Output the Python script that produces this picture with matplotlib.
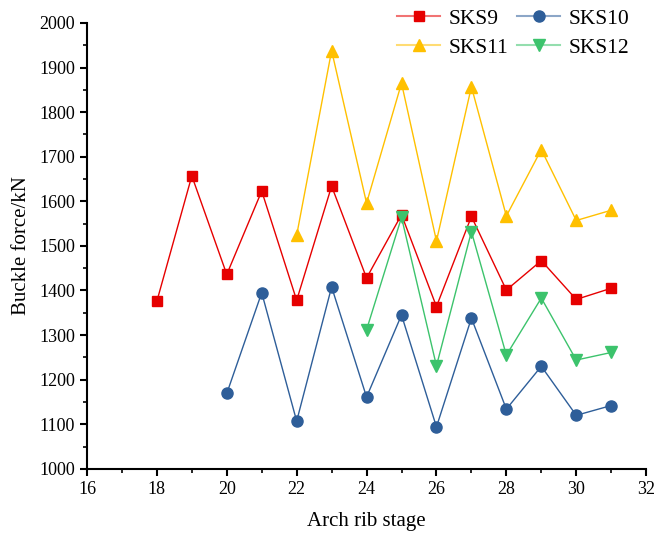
import matplotlib.pyplot as plt
from matplotlib.ticker import MultipleLocator
from matplotlib.lines import Line2D
from matplotlib.colors import to_rgba

plt.rcParams['font.family'] = ['Liberation Serif', 'DejaVu Serif']

x_sks9 = [18, 19, 20, 21, 22, 23, 24, 25, 26, 27, 28, 29, 30, 31]
y_sks9 = [1376, 1657, 1436, 1623, 1378, 1634, 1428, 1570, 1364, 1566, 1401, 1467, 1380, 1405]
x_sks10 = [20, 21, 22, 23, 24, 25, 26, 27, 28, 29, 30, 31]
y_sks10 = [1169, 1395, 1107, 1408, 1161, 1345, 1094, 1338, 1134, 1230, 1120, 1142]
x_sks11 = [22, 23, 24, 25, 26, 27, 28, 29, 30, 31]
y_sks11 = [1524, 1938, 1596, 1865, 1511, 1857, 1567, 1716, 1557, 1580]
x_sks12 = [24, 25, 26, 27, 28, 29, 30, 31]
y_sks12 = [1312, 1564, 1231, 1532, 1255, 1383, 1244, 1261]

series = [
    ('SKS9', x_sks9, y_sks9, '#e60000', 's', 7),
    ('SKS10', x_sks10, y_sks10, '#2e5e99', 'o', 8),
    ('SKS11', x_sks11, y_sks11, '#ffc000', '^', 8),
    ('SKS12', x_sks12, y_sks12, '#3cc36c', 'v', 8),
]

fig = plt.figure(figsize=(6.54, 5.34), dpi=100)
ax = fig.add_axes([0.133, 0.122, 0.855, 0.835])

handles = {}
for name, xs, ys, col, mk, ms in series:
    ax.plot(xs, ys, color=col, marker=mk, markersize=ms, linewidth=1)
    # legend proxy: faded line, solid marker
    handles[name] = Line2D([], [], color=to_rgba(col, 0.55), marker=mk, markersize=ms,
                           markerfacecolor=col, markeredgecolor=col, linewidth=1.5)

ax.set_xlim(16, 32)
ax.set_ylim(1000, 2000)
ax.xaxis.set_major_locator(MultipleLocator(2))
ax.xaxis.set_minor_locator(MultipleLocator(1))
ax.yaxis.set_major_locator(MultipleLocator(100))
ax.yaxis.set_minor_locator(MultipleLocator(50))
ax.spines['top'].set_visible(False)
ax.spines['right'].set_visible(False)
ax.spines['left'].set_linewidth(1.5)
ax.spines['bottom'].set_linewidth(1.5)
ax.tick_params(which='major', direction='out', length=5, width=1.5, labelsize=13)
ax.tick_params(which='minor', direction='out', length=3, width=1.2)

ax.set_xlabel('Arch rib stage', fontsize=15, labelpad=10)
ax.set_ylabel('Buckle force/kN', fontsize=15, labelpad=6)

order = ['SKS9', 'SKS11', 'SKS10', 'SKS12']
ax.legend([handles[n] for n in order], order, ncol=2, loc='upper right',
          bbox_to_anchor=(1.005, 1.075), frameon=False, fontsize=15.5, handlelength=2.0,
          columnspacing=0.4, handletextpad=0.4, labelspacing=0.4)

fig.savefig('out.png', dpi=100)
